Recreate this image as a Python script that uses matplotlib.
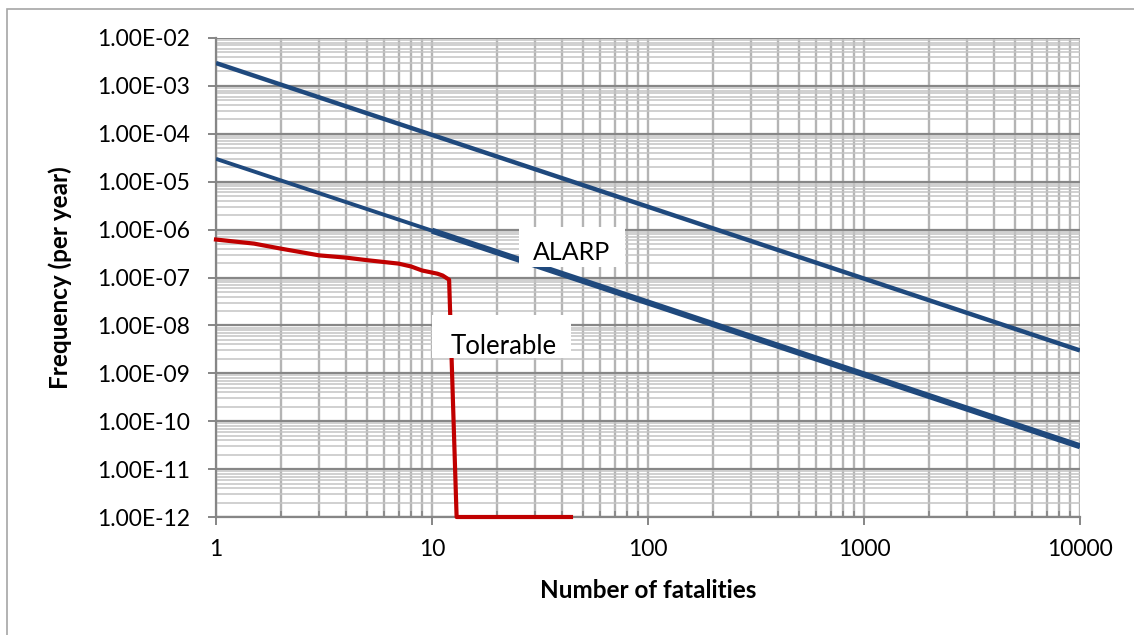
import numpy as np
import matplotlib
matplotlib.use('Agg')
import matplotlib.pyplot as plt
from matplotlib.ticker import LogLocator, FuncFormatter, NullFormatter
from matplotlib.patches import Rectangle

plt.rcParams['font.family'] = ['Lato', 'DejaVu Sans']

# criterion lines (F-N curves)
upper_n = [1, 10000]
upper_f = [3e-3, 3e-9]
lower_n = [1, 10000]
lower_f = [3e-5, 3e-11]
lower2_n = [10, 10000]
lower2_f = [9.5e-7, 3e-11]

# societal risk curve
risk_n = [1, 1.5, 2, 3, 4, 5, 7, 8, 9, 10.6, 11.2, 12, 13, 44]
risk_f = [6.2e-7, 5.1e-7, 4.0e-7, 2.9e-7, 2.6e-7, 2.3e-7, 1.95e-7, 1.7e-7,
          1.4e-7, 1.2e-7, 1.1e-7, 9.0e-8, 1e-12, 1e-12]

W, H = 1134, 635
fig = plt.figure(figsize=(W / 100, H / 100), dpi=100)
ax = fig.add_axes([216 / W, 1 - 517 / H, 864 / W, 479 / H])

# light outer frame like the Excel chart area
fig.patches.append(Rectangle((7 / W, -0.1), 1.2, 1 - 9 / H + 0.1, transform=fig.transFigure,
                             fill=False, edgecolor='#a6a6a6', lw=1.2))

blue = '#1f497d'
ax.plot(upper_n, upper_f, color=blue, lw=3.2, solid_capstyle='butt', zorder=3)
ax.plot(lower_n, lower_f, color=blue, lw=2.8, solid_capstyle='butt', zorder=3)
ax.plot(lower2_n, lower2_f, color=blue, lw=4.4, solid_capstyle='butt', zorder=3)
ax.plot(risk_n, risk_f, color='#c00000', lw=3.0, zorder=3.5, clip_on=False)

ax.set_xscale('log')
ax.set_yscale('log')
ax.set_xlim(1, 10000)
ax.set_ylim(1e-12, 1e-2)

ax.xaxis.set_major_locator(LogLocator(base=10, numticks=20))
ax.xaxis.set_minor_locator(LogLocator(base=10, subs=np.arange(2, 10), numticks=100))
ax.yaxis.set_major_locator(LogLocator(base=10, numticks=20))
ax.yaxis.set_minor_locator(LogLocator(base=10, subs=np.arange(2, 10), numticks=100))
ax.xaxis.set_major_formatter(FuncFormatter(lambda v, p: f"{v:g}"))
ax.yaxis.set_major_formatter(FuncFormatter(lambda v, p: f"{v:.2E}"))
ax.xaxis.set_minor_formatter(NullFormatter())
ax.yaxis.set_minor_formatter(NullFormatter())

ax.grid(which='major', axis='y', color='#878787', lw=1.6, zorder=1)
ax.grid(which='minor', axis='y', color='#c4c4c4', lw=1.1, zorder=1)
ax.grid(which='both', axis='x', color='#b4b4b4', lw=1.7, zorder=1)
ax.set_axisbelow(True)

for s in ['top', 'right']:
    ax.spines[s].set_visible(False)
for s in ['left', 'bottom']:
    ax.spines[s].set_color('#868686')
    ax.spines[s].set_linewidth(1.6)

ax.tick_params(which='major', axis='both', direction='out', length=6, width=1.4,
               color='#868686', labelsize=16.5, labelcolor='black')
ax.tick_params(which='major', axis='y', pad=13)
ax.tick_params(which='major', axis='x', pad=10)
ax.tick_params(which='minor', axis='y', length=0)
ax.tick_params(which='minor', axis='x', direction='in', length=4, width=1.2, color='#868686')

# white label boxes
ax.add_patch(Rectangle((0.351, 0.521), 0.122, 0.0835, transform=ax.transAxes,
                       facecolor='white', edgecolor='none', zorder=4))
ax.text(0.412, 0.553, 'ALARP', transform=ax.transAxes, fontsize=18,
        ha='center', va='center', zorder=5)
ax.add_patch(Rectangle((0.250, 0.332), 0.161, 0.0898, transform=ax.transAxes,
                       facecolor='white', edgecolor='none', zorder=4))
ax.text(0.333, 0.356, 'Tolerable', transform=ax.transAxes, fontsize=18.5,
        ha='center', va='center', zorder=5)

fig.text(60 / W, 1 - 278 / H, 'Frequency (per year)', rotation=90, fontsize=17.5,
         fontweight='bold', ha='center', va='center')
fig.text(648 / W, 1 - 590 / H, 'Number of fatalities', fontsize=17.5,
         fontweight='bold', ha='center', va='center')

fig.savefig('out.png', dpi=100)
